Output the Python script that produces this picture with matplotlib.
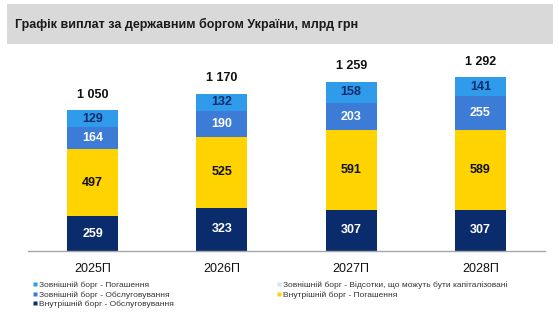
import matplotlib
matplotlib.use("Agg")
import matplotlib.pyplot as plt
from matplotlib.patches import Rectangle
from matplotlib.lines import Line2D

plt.rcParams['font.family'] = ['Liberation Sans', 'DejaVu Sans']

years = ["2025П", "2026П", "2027П", "2028П"]
dom_service = [259, 323, 307, 307]
dom_repay = [497, 525, 591, 589]
ext_service = [164, 190, 203, 255]
ext_capital = [0, 0, 0, 0]
ext_repay = [129, 132, 158, 141]
totals = ["1 050", "1 170", "1 259", "1 292"]

title = "Графік виплат за державним боргом України, млрд грн"

c_navy = "#0B2C6C"
c_yellow = "#FFD300"
c_mid = "#3C7BD6"
c_light = "#2F9BEA"
c_cap = "#D3E6F7"

fig = plt.figure(figsize=(5.59, 3.22), dpi=100)
W, H = 559, 322

# title box
fig.patches.append(Rectangle((7 / W, 1 - 44 / H), (553 - 7) / W, 40 / H,
                             transform=fig.transFigure, facecolor="#D9D9D9",
                             edgecolor="none", zorder=0))
fig.text(15 / W, 1 - 24.5 / H, title, fontsize=9.0, fontweight="bold",
         color="#1a1a1a", va="center", ha="left")

ax = fig.add_axes([28 / W, 1 - 251 / H, (545 - 28) / W, (251 - 50) / H])
x = list(range(len(years)))
bw = 0.395

series = [
    (dom_service, c_navy, "white"),
    (dom_repay, c_yellow, "#111111"),
    (ext_service, c_mid, "white"),
    (ext_capital, c_cap, "#0B2C6C"),
    (ext_repay, c_light, "#0B2C6C"),
]
bottom = [0] * len(years)
for vals, col, tcol in series:
    bars = ax.bar(x, vals, bw, bottom=bottom, color=col, edgecolor="none")
    for i, (b, v) in enumerate(zip(bars, vals)):
        if v > 0:
            ax.text(b.get_x() + b.get_width() / 2, bottom[i] + v / 2, str(v),
                    ha="center", va="center", fontsize=9, fontweight="bold",
                    color=tcol)
    bottom = [bo + v for bo, v in zip(bottom, vals)]

for i, t in enumerate(totals):
    ax.annotate(t, (x[i], bottom[i]), xytext=(0, 11), textcoords="offset points",
                ha="center", va="center", fontsize=9, fontweight="bold",
                color="#111111")

ax.set_xlim(-0.5, 3.5)
ax.set_ylim(0, 1494)
ax.set_yticks([])
ax.set_xticks(x)
ax.set_xticklabels(years, fontsize=9, color="#111111")
ax.tick_params(axis="x", length=0, pad=9)
for s in ["top", "right", "left"]:
    ax.spines[s].set_visible(False)
ax.spines["bottom"].set_color("#A6A6A6")
ax.spines["bottom"].set_linewidth(1.0)

def h(col):
    return Line2D([], [], marker="s", linestyle="none", markersize=3.3,
                  markerfacecolor=col, markeredgecolor="none")

handles = [h(c_light), h(c_mid), h(c_navy), h(c_cap), h(c_yellow)]
labels = ["Зовнішній борг - Погашення", "Зовнішній борг - Обслуговування",
          "Внутрішній борг - Обслуговування",
          "Зовнішній борг - Відсотки, що можуть бути капіталізовані",
          "Внутрішній борг - Погашення"]
leg = fig.legend(handles, labels, ncol=2, loc="upper left",
                 bbox_to_anchor=(32 / W, 1 - 281.5 / H), frameon=False,
                 fontsize=6.0, handlelength=0.6, handletextpad=0.2,
                 labelspacing=0.2, columnspacing=12.3, borderaxespad=0,
                 borderpad=0)
for t in leg.get_texts():
    t.set_color("#333333")

fig.savefig("out.png", dpi=100)
